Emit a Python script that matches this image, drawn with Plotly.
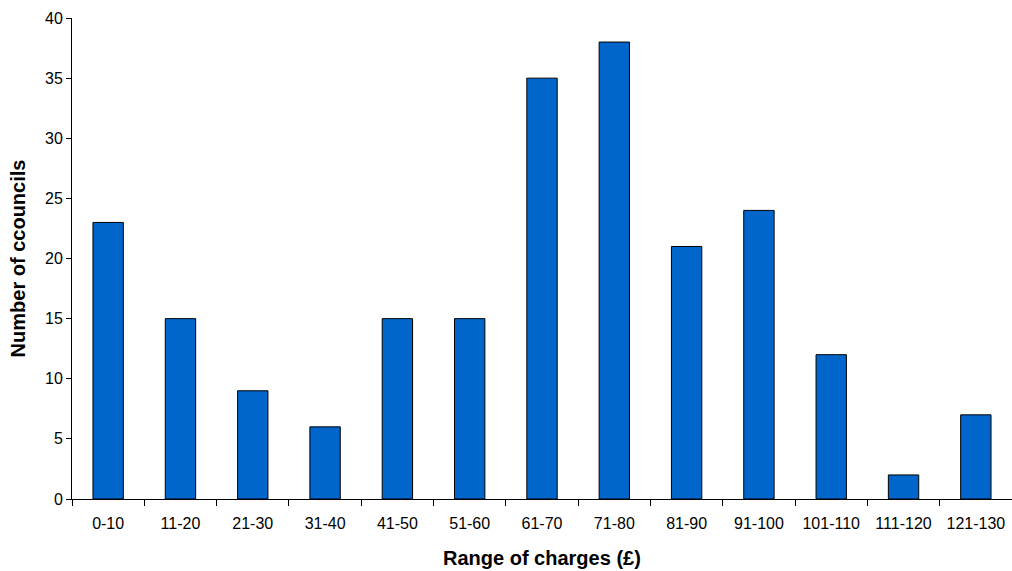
import plotly.graph_objects as go

categories = ["0-10", "11-20", "21-30", "31-40", "41-50", "51-60", "61-70",
              "71-80", "81-90", "91-100", "101-110", "111-120", "121-130"]
councils = [23, 15, 9, 6, 15, 15, 35, 38, 21, 24, 12, 2, 7]

fig = go.Figure(go.Bar(
    x=categories, y=councils,
    marker=dict(color="#0066CC", line=dict(color="#000000", width=1)),
))

fig.add_annotation(
    text="<b>Range of charges (£)</b>", xref="paper", yref="paper",
    x=0.5, y=0, xanchor="center", yanchor="middle", yshift=-59,
    showarrow=False, font=dict(size=20, color="#000000"),
)

fig.update_layout(
    width=1012, height=571,
    margin=dict(l=72, r=0, t=18, b=72, autoexpand=False),
    paper_bgcolor="white", plot_bgcolor="white",
    bargap=0.58,
    showlegend=False,
    font=dict(family="Liberation Sans, Arial, sans-serif", size=16, color="#000000"),
    xaxis=dict(
        showline=True, linecolor="#000000", linewidth=1,
        ticks="outside", tickson="boundaries", ticklen=6, tickcolor="#000000",
        ticklabelstandoff=10, automargin=False,
        showgrid=False, tickfont=dict(size=16),
    ),
    yaxis=dict(
        title=dict(text="<b>Number of ccouncils</b>", font=dict(size=20), standoff=14),
        range=[0, 40], dtick=5,
        showline=True, linecolor="#000000", linewidth=1,
        ticks="outside", ticklen=5, tickcolor="#000000", automargin=False,
        showgrid=False, zeroline=False, tickfont=dict(size=16),
    ),
)

fig.write_html(
    "out.html",
    config={"displayModeBar": False},
    post_script="document.body.style.margin='0';document.body.style.overflow='hidden';",
)
